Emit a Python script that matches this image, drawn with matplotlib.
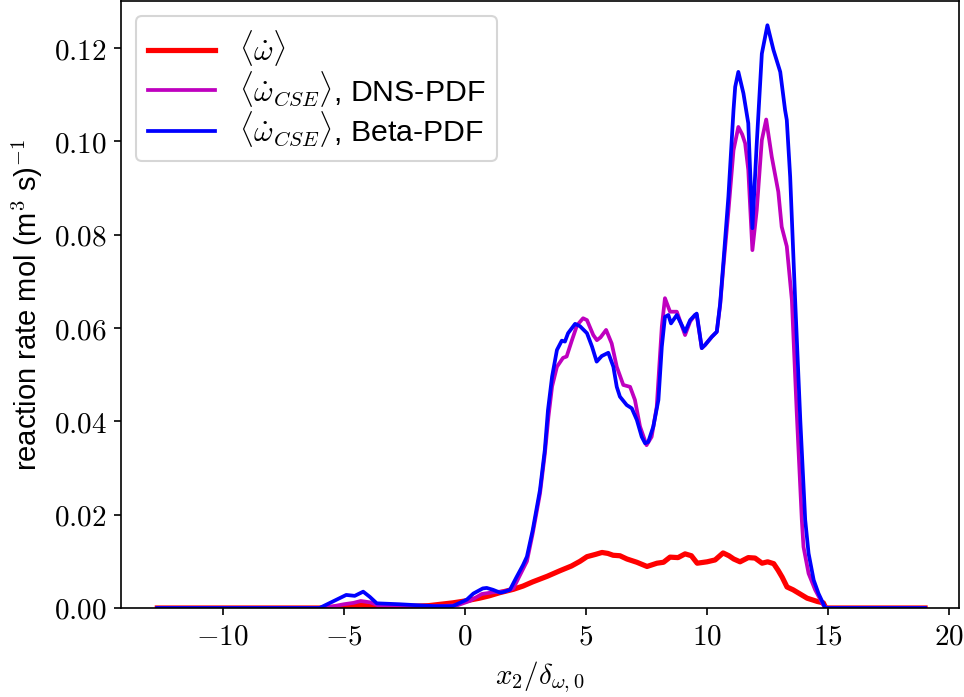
import numpy as np
import matplotlib
matplotlib.use("Agg")
import matplotlib.pyplot as plt
import matplotlib.ticker as plticker
from matplotlib import rcParams

# <omega_dot>
x_mean = [-12.7, -6.0, -5.0, -4.3, -3.6, -2.5, -1.5, -1.0, -0.5, 0.0, 0.6, 1.0, 1.45, 2.0, 2.4,
	2.8, 3.4, 3.93, 4.4, 4.75, 5.04, 5.4, 5.66, 5.9, 6.12, 6.4, 6.69, 7.1, 7.52, 7.93, 8.2,
	8.47, 8.8, 9.09, 9.35, 9.59, 10.0, 10.33, 10.66, 10.9, 11.1, 11.36, 11.7, 11.98, 12.27,
	12.5, 12.75, 12.93, 13.1, 13.3, 13.55, 13.84, 14.13, 14.55, 14.8, 14.9, 19.0]
y_mean = [0, 0, 0.0003, 0.0006, 0.0003, 0.0003, 0.0005, 0.0008, 0.0011, 0.0015, 0.0021, 0.0026,
	0.0033, 0.0040, 0.0047, 0.0056, 0.0068, 0.0080, 0.0090, 0.0100, 0.0110, 0.0115, 0.0119,
	0.0117, 0.0113, 0.0112, 0.0105, 0.0098, 0.0089, 0.0096, 0.0098, 0.0109, 0.0108, 0.0116,
	0.0112, 0.0096, 0.0099, 0.0103, 0.0118, 0.0112, 0.0105, 0.0099, 0.0108, 0.0107, 0.0096,
	0.0099, 0.0095, 0.0081, 0.0066, 0.0045, 0.0039, 0.0030, 0.0021, 0.0014, 0.0011, 0.0, 0.0]

# <omega_dot_CSE>, DNS-PDF
x_dns = [-12.7, -6.0, -5.6, -5.0, -4.6, -4.3, -3.9, -3.6, -3.0, -2.0, -1.0, -0.3, 0.2, 0.7, 1.2,
	1.7, 2.0, 2.27, 2.56, 2.8, 3.1, 3.3, 3.45, 3.6, 3.8, 4.05, 4.2, 4.42, 4.63, 4.88, 5.04,
	5.3, 5.45, 5.6, 5.83, 6.06, 6.27, 6.54, 6.82, 7.02, 7.23, 7.5, 7.71, 7.92, 8.13, 8.26,
	8.47, 8.75, 9.09, 9.3, 9.5, 9.57, 9.78, 9.92, 10.19, 10.4, 10.54, 10.67, 10.88, 11.09,
	11.29, 11.45, 11.57, 11.7, 11.87, 12.05, 12.26, 12.44, 12.67, 12.94, 13.08, 13.29, 13.5,
	13.7, 13.91, 13.98, 14.19, 14.46, 14.8, 14.95, 19.0]
y_dns = [0, 0, 0.0002, 0.0008, 0.0011, 0.0015, 0.0012, 0.0006, 0.0005, 0.0004, 0.0004, 0.0006,
	0.0015, 0.0030, 0.0034, 0.0036, 0.0042, 0.0070, 0.0100, 0.0160, 0.0245, 0.0330, 0.0410,
	0.0475, 0.0517, 0.0536, 0.0539, 0.0574, 0.0606, 0.0621, 0.0617, 0.0585, 0.0574, 0.0580,
	0.0596, 0.0567, 0.0517, 0.0478, 0.0474, 0.0446, 0.0389, 0.0349, 0.0367, 0.0431, 0.0603,
	0.0664, 0.0635, 0.0635, 0.0585, 0.0614, 0.0628, 0.0628, 0.0557, 0.0564, 0.0581, 0.0592,
	0.0650, 0.0730, 0.0850, 0.0981, 0.1031, 0.1015, 0.0996, 0.0939, 0.0767, 0.0853, 0.1003,
	0.1047, 0.0967, 0.0892, 0.0817, 0.0775, 0.0660, 0.0420, 0.0189, 0.0131, 0.0074, 0.0039,
	0.0006, 0.0, 0.0]

# <omega_dot_CSE>, Beta-PDF
x_beta = [-12.7, -6.0, -5.45, -4.9, -4.55, -4.2, -3.93, -3.64, -2.7, -1.3, -0.5, 0.08, 0.35, 0.74,
	0.9, 1.16, 1.45, 1.57, 1.86, 2.14, 2.4, 2.56, 2.8, 3.1, 3.3, 3.43, 3.6, 3.8, 4.0, 4.13,
	4.26, 4.55, 4.75, 5.04, 5.25, 5.44, 5.65, 5.92, 6.13, 6.27, 6.4, 6.68, 6.89, 7.1, 7.3,
	7.44, 7.57, 7.78, 7.99, 8.13, 8.26, 8.4, 8.51, 8.75, 9.09, 9.3, 9.5, 9.57, 9.78, 9.92,
	10.19, 10.4, 10.54, 10.67, 10.88, 11.09, 11.16, 11.29, 11.5, 11.7, 11.87, 12.05, 12.26,
	12.49, 12.74, 13.02, 13.22, 13.29, 13.43, 13.64, 13.85, 14.05, 14.19, 14.4, 14.6, 14.88, 19.0]
y_beta = [0, 0, 0.0014, 0.0028, 0.0026, 0.0035, 0.0024, 0.0010, 0.0008, 0.0004, 0.0004, 0.0018,
	0.0031, 0.0042, 0.0043, 0.0039, 0.0033, 0.0034, 0.0039, 0.0067, 0.0092, 0.0110, 0.0167,
	0.0253, 0.0339, 0.0424, 0.0496, 0.0553, 0.0573, 0.0571, 0.0589, 0.0609, 0.0604, 0.0589,
	0.0560, 0.0528, 0.0540, 0.0547, 0.0517, 0.0474, 0.0453, 0.0435, 0.0428, 0.0403, 0.0367,
	0.0353, 0.0356, 0.0389, 0.0446, 0.0560, 0.0624, 0.0628, 0.0610, 0.0628, 0.0592, 0.0617,
	0.0628, 0.0631, 0.0557, 0.0564, 0.0581, 0.0592, 0.0653, 0.0739, 0.0882, 0.1067, 0.1117,
	0.1149, 0.1103, 0.1039, 0.0814, 0.0996, 0.1188, 0.1249, 0.1196, 0.1149, 0.1067, 0.1046,
	0.0924, 0.0654, 0.0400, 0.0189, 0.0117, 0.0060, 0.0031, 0.0, 0.0]

labels = [r'$\langle\dot{\omega}\rangle$',
	r'$\langle\dot{\omega}_{CSE}\rangle$, DNS-PDF',
	r'$\langle\dot{\omega}_{CSE}\rangle$, Beta-PDF']
x_ticks = [-10, -5, 0, 5, 10, 15, 20]
y_ticks = [0.0, 0.02, 0.04, 0.06, 0.08, 0.10, 0.12]

rcParams['font.family'] = ['Liberation Sans', 'DejaVu Sans']
rcParams['mathtext.fontset'] = 'cm'
rcParams['font.size'] = 14

fig, ax = plt.subplots(figsize=(964/150., 697/150.), dpi=150)
fig.subplots_adjust(left=0.1255, right=0.9948, bottom=0.1277, top=0.9986)

ax.plot(x_mean, y_mean, color='r', lw=2.5, label=labels[0], solid_joinstyle='round')
ax.plot(x_dns, y_dns, color='m', lw=1.8, label=labels[1], solid_joinstyle='round')
ax.plot(x_beta, y_beta, color='b', lw=1.8, label=labels[2], solid_joinstyle='round')

ax.set_xlim([-14.2, 20.4])
ax.set_ylim([0, 0.1301])
ax.set_xticks(x_ticks)
ax.set_yticks(y_ticks)
ax.xaxis.set_major_formatter(plticker.FuncFormatter(lambda v, p: r'$%d$' % v))
ax.yaxis.set_major_formatter(plticker.FuncFormatter(lambda v, p: r'$%.2f$' % v))

ax.set_xlabel(r'$x_2/\delta_{\omega,0}$')
ax.set_ylabel(r'reaction rate mol (m$^3$ s)$^{-1}$')
ax.legend(loc='upper left', fontsize=14.5, labelspacing=0.02, handlelength=2.2)

plt.savefig('out.png', dpi=150)
